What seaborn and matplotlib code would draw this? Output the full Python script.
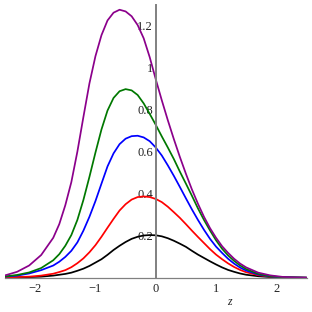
import pandas as pd
import matplotlib
matplotlib.use("Agg")
import matplotlib.pyplot as plt
from matplotlib.ticker import MultipleLocator, FixedLocator
import seaborn as sns

# values (z positions shared by all curves)
z = [-2.5, -2.3, -2.1, -1.9, -1.7, -1.6, -1.5, -1.4, -1.3, -1.2, -1.1, -1.0, -0.9, -0.8, -0.7,
     -0.6, -0.5, -0.4, -0.3, -0.2, -0.1, 0.0, 0.1, 0.2, 0.3, 0.4, 0.5, 0.6, 0.7, 0.8, 0.9,
     1.0, 1.1, 1.2, 1.3, 1.4, 1.5, 1.7, 1.9, 2.1, 2.3, 2.5]

f_black = [0.001, 0.002, 0.003, 0.005, 0.010, 0.014, 0.018, 0.024, 0.033, 0.043, 0.056, 0.072, 0.088, 0.109, 0.132,
           0.152, 0.170, 0.185, 0.195, 0.201, 0.203, 0.202, 0.197, 0.188, 0.176, 0.162, 0.147, 0.128, 0.110, 0.094, 0.078,
           0.063, 0.049, 0.037, 0.028, 0.020, 0.014, 0.007, 0.003, 0.001, 0.0005, 0.0]

f_red = [0.002, 0.003, 0.005, 0.010, 0.019, 0.027, 0.036, 0.050, 0.069, 0.092, 0.121, 0.155, 0.195, 0.238, 0.280,
         0.320, 0.350, 0.372, 0.384, 0.387, 0.384, 0.375, 0.360, 0.338, 0.312, 0.285, 0.255, 0.224, 0.194, 0.165, 0.136,
         0.110, 0.088, 0.068, 0.051, 0.037, 0.026, 0.012, 0.005, 0.002, 0.001, 0.0]

f_blue = [0.005, 0.010, 0.020, 0.036, 0.058, 0.076, 0.099, 0.128, 0.168, 0.224, 0.290, 0.365, 0.448, 0.530, 0.592,
          0.636, 0.662, 0.674, 0.676, 0.668, 0.650, 0.620, 0.582, 0.535, 0.485, 0.432, 0.378, 0.325, 0.275, 0.228, 0.185,
          0.148, 0.118, 0.090, 0.067, 0.048, 0.034, 0.015, 0.006, 0.002, 0.001, 0.0]

f_green = [0.006, 0.013, 0.025, 0.046, 0.083, 0.112, 0.152, 0.203, 0.275, 0.370, 0.480, 0.596, 0.706, 0.796, 0.856,
           0.888, 0.898, 0.892, 0.870, 0.830, 0.780, 0.728, 0.673, 0.620, 0.565, 0.505, 0.448, 0.390, 0.330, 0.275, 0.225,
           0.178, 0.138, 0.106, 0.080, 0.058, 0.041, 0.018, 0.007, 0.002, 0.001, 0.0]

f_purple = [0.011, 0.028, 0.058, 0.108, 0.190, 0.255, 0.345, 0.455, 0.600, 0.765, 0.925, 1.055, 1.155, 1.225, 1.262,
            1.276, 1.268, 1.245, 1.203, 1.140, 1.050, 0.945, 0.845, 0.750, 0.660, 0.575, 0.495, 0.420, 0.352, 0.290, 0.236,
            0.190, 0.150, 0.118, 0.090, 0.067, 0.049, 0.024, 0.011, 0.004, 0.001, 0.0]

y_ticks = [0.2, 0.4, 0.6, 0.8, 1.0, 1.2]
y_labels = ['0.2', '0.4', '0.6', '0.8', '1', '1.2']
x_ticks = [-2, -1, 0, 1, 2]
x_labels = ['\u22122', '\u22121', '0', '1', '2']

series = {'black': f_black, 'red': f_red, 'blue': f_blue, 'green': f_green, 'purple': f_purple}
df = pd.concat([pd.DataFrame({'z': z, 'f': ff, 'curve': name}) for name, ff in series.items()],
               ignore_index=True)

sns.set_style('white')
plt.rcParams['font.family'] = ['Liberation Serif', 'DejaVu Serif']

fig = plt.figure(figsize=(3.12, 3.12), dpi=100)
ax = fig.add_axes([5 / 312, 34.3 / 312, 301.5 / 312, 273 / 312])

palette = {'black': '#000000', 'red': '#ff0000', 'blue': '#0000ff',
           'green': '#007800', 'purple': '#8b008b'}
sns.lineplot(data=df, x='z', y='f', hue='curve', palette=palette, estimator=None,
             sort=False, legend=False, linewidth=1.25, ax=ax)

ax.set_xlim(-2.5, 2.5)
ax.set_ylim(0, 1.3)
for s in ['top', 'right']:
    ax.spines[s].set_visible(False)
ax.spines['left'].set_position(('data', 0))
ax.spines['bottom'].set_position(('data', 0))
ax.spines['left'].set_color('#808080')
ax.spines['bottom'].set_color('#808080')
ax.spines['left'].set_linewidth(1.4)
ax.spines['bottom'].set_linewidth(0.9)

ax.xaxis.set_major_locator(FixedLocator(x_ticks))
ax.set_xticklabels(x_labels)
ax.xaxis.set_minor_locator(MultipleLocator(0.5))
ax.yaxis.set_major_locator(FixedLocator(y_ticks))
ax.set_yticklabels(y_labels)
ax.yaxis.set_minor_locator(MultipleLocator(0.1))
ax.tick_params(axis='both', which='both', direction='in', length=2.5, width=0.6,
               color='#808080', labelsize=9, labelcolor='#222222')
ax.tick_params(axis='y', pad=2)
ax.tick_params(axis='x', pad=4)
ax.set_xlabel('')
ax.set_ylabel('')
ax.text(1.23, -0.115, 'z', style='italic', fontsize=8.5, ha='center', va='center',
        color='#222222', clip_on=False)

fig.savefig('out.png', dpi=100)
